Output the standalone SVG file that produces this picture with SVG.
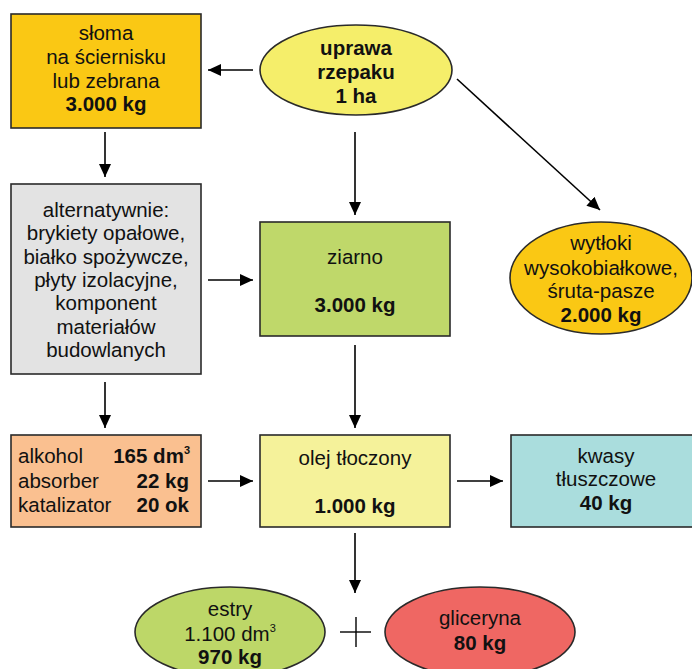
<svg xmlns="http://www.w3.org/2000/svg" width="692" height="669" viewBox="0 0 692 669">
<style>
text{font-family:"Liberation Sans",Arial,sans-serif;font-size:20.5px;fill:#111;text-anchor:middle}
.b{font-weight:bold}
.l{text-anchor:start}
.r{text-anchor:end}
.sup{font-size:11px}
.shape{stroke:#2a2a2a;stroke-width:1.6}
.conn line{stroke:#000;stroke-width:1.6;marker-end:url(#ah)}
</style>
<defs>
<marker id="ah" markerUnits="userSpaceOnUse" markerWidth="14" markerHeight="14" refX="13" refY="7" orient="auto">
<path d="M0,1 L13,7 L0,13 Z" fill="#000"/>
</marker>
</defs>
<rect width="692" height="669" fill="#fff"/>

<g id="conns" class="conn">
<line x1="253" y1="70" x2="208" y2="70"/>
<line x1="105" y1="132" x2="105" y2="177"/>
<line x1="355" y1="132" x2="355" y2="215"/>
<line x1="457" y1="79" x2="600" y2="210"/>
<line x1="208" y1="280" x2="253" y2="280"/>
<line x1="105" y1="382" x2="105" y2="428"/>
<line x1="355" y1="345" x2="355" y2="428"/>
<line x1="208" y1="481" x2="253" y2="481"/>
<line x1="457" y1="481" x2="503" y2="481"/>
<line x1="355" y1="533" x2="355" y2="593"/>
</g>

<g id="sloma">
<rect class="shape" x="11" y="14" width="190" height="114" fill="#FAC814"/>
<text x="106" y="40">słoma</text>
<text x="106" y="64">na ściernisku</text>
<text x="106" y="88">lub zebrana</text>
<text class="b" x="106" y="111">3.000 kg</text>
</g>

<g id="uprawa">
<ellipse class="shape" cx="356" cy="70" rx="96" ry="45" fill="#F5EE6A"/>
<text class="b" x="356" y="55">uprawa</text>
<text class="b" x="356" y="79">rzepaku</text>
<text class="b" x="356" y="103">1 ha</text>
</g>

<g id="alternatywnie">
<rect class="shape" x="11" y="184" width="190" height="190" fill="#E3E3E3"/>
<text x="106" y="217">alternatywnie:</text>
<text x="106" y="240">brykiety opałowe,</text>
<text x="106" y="263.5">białko spożywcze,</text>
<text x="106" y="287">płyty izolacyjne,</text>
<text x="106" y="310">komponent</text>
<text x="106" y="333.5">materiałów</text>
<text x="106" y="357">budowlanych</text>
</g>

<g id="ziarno">
<rect class="shape" x="260" y="222" width="190" height="114" fill="#BFD86A"/>
<text x="355" y="264">ziarno</text>
<text class="b" x="355" y="312">3.000 kg</text>
</g>

<g id="wytloki">
<ellipse class="shape" cx="601" cy="278" rx="91" ry="56" fill="#FAC814"/>
<text x="601" y="250">wytłoki</text>
<text x="601" y="275">wysokobiałkowe,</text>
<text x="601" y="298">śruta-pasze</text>
<text class="b" x="601" y="322">2.000 kg</text>
</g>

<g id="skladniki">
<rect class="shape" x="11" y="435" width="190" height="92" fill="#FAC090"/>
<text class="l" x="18" y="463">alkohol</text>
<text class="l" x="18" y="488">absorber</text>
<text class="l" x="18" y="512">katalizator</text>
<text class="r b" x="190" y="463">165 dm<tspan class="sup" dy="-9">3</tspan></text>
<text class="r b" x="189" y="488">22 kg</text>
<text class="r b" x="189" y="512">20 ok</text>
</g>

<g id="olej">
<rect class="shape" x="260" y="435" width="190" height="92" fill="#F5F29A"/>
<text x="355" y="465">olej tłoczony</text>
<text class="b" x="355" y="513">1.000 kg</text>
</g>

<g id="kwasy">
<rect class="shape" x="511" y="435" width="190" height="92" fill="#AADDDD"/>
<text x="606" y="463">kwasy</text>
<text x="606" y="486">tłuszczowe</text>
<text class="b" x="606" y="510">40 kg</text>
</g>

<g id="estry">
<ellipse class="shape" cx="230" cy="632" rx="95" ry="45" fill="#BDD768"/>
<text x="230" y="616">estry</text>
<text x="230" y="641">1.100 dm<tspan class="sup" dy="-9">3</tspan></text>
<text class="b" x="230" y="664">970 kg</text>
</g>

<g id="plus">
<line x1="340" y1="632" x2="371" y2="632" stroke="#000" stroke-width="1.4"/>
<line x1="356" y1="617" x2="356" y2="647" stroke="#000" stroke-width="1.4"/>
</g>

<g id="gliceryna">
<ellipse class="shape" cx="480" cy="632" rx="95" ry="45" fill="#EF6763"/>
<text x="480" y="625">gliceryna</text>
<text class="b" x="480" y="650">80 kg</text>
</g>
</svg>
